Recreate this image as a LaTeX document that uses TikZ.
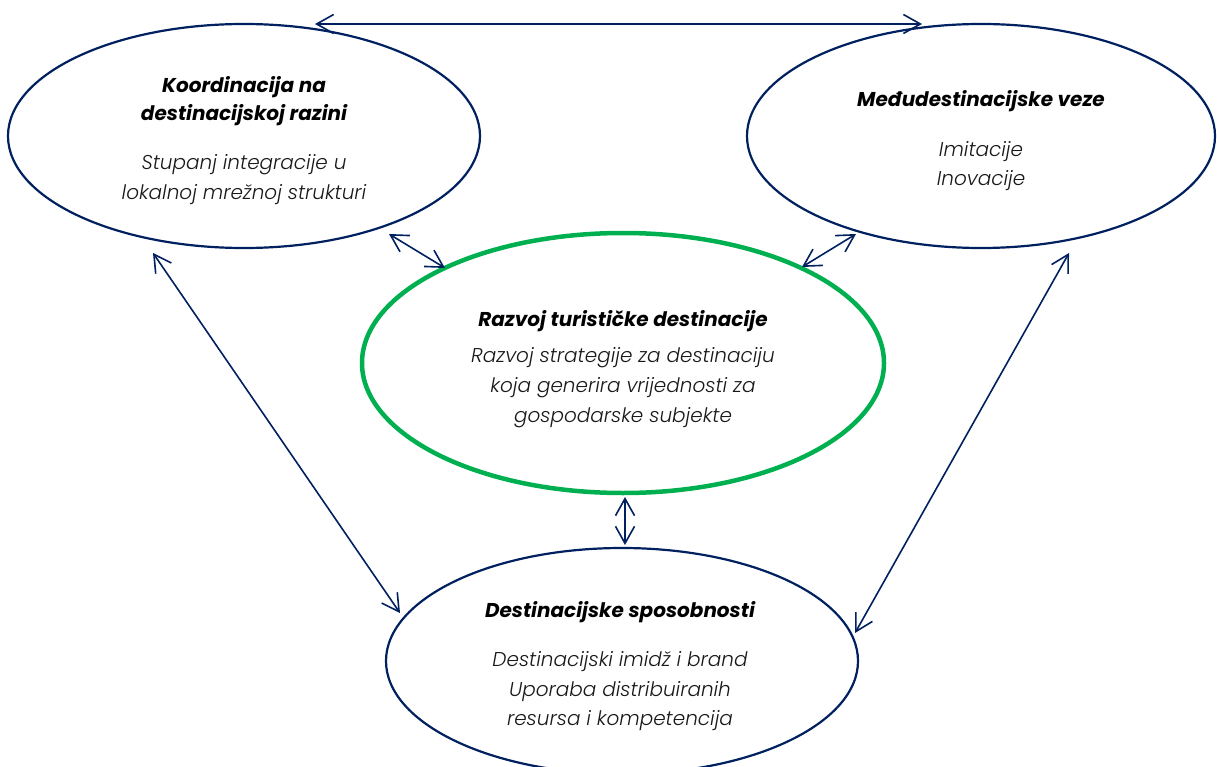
\documentclass[tikz,border=0pt]{standalone}
\usepackage{fontspec}
\setmainfont{Poppins}
\newfontfamily\thinit{Poppins Light Italic}
\usetikzlibrary{shapes.geometric,arrows.meta}
\definecolor{navy}{RGB}{0,32,96}
\definecolor{dgreen}{RGB}{0,176,80}
\begin{document}
\begin{tikzpicture}[x=1pt,y=-1pt,
  oval/.style={draw=navy,line width=2.2pt,ellipse,inner sep=0pt},
  hub/.style={draw=dgreen,line width=4.5pt,ellipse,inner sep=0pt},
  ttl/.style={anchor=base,font=\fontsize{20}{24}\selectfont\bfseries\itshape,inner sep=0pt},
  txt/.style={anchor=base,font=\fontsize{20}{24}\selectfont\thinit,inner sep=0pt,text=black!90},
  arr/.style={draw=navy,line width=1.6pt,{Straight Barb[length=17pt,width=19pt]}-{Straight Barb[length=17pt,width=19pt]}}]
\useasboundingbox (0,0) rectangle (1217,767);
% ellipses
\node[oval,minimum width=472pt,minimum height=224pt] (L) at (244,136) {};
\node[oval,minimum width=468pt,minimum height=224pt] (R) at (981,136) {};
\node[hub,minimum width=522pt,minimum height=260pt] (C) at (623,363) {};
\node[oval,minimum width=472pt,minimum height=226pt] (B) at (622,661) {};
% texts
\node[ttl] (L1) at (244,93) {Koordinacija na};
\node[ttl] (L2) at (244,121) {destinacijskoj razini};
\node[txt] (L3) at (244,170) {Stupanj integracije u};
\node[txt] (L4) at (244,200) {lokalnoj mrežnoj strukturi};
\node[ttl] (R1) at (981,107) {Međudestinacijske veze};
\node[txt] (R2) at (981,157) {Imitacije};
\node[txt] (R3) at (981,186) {Inovacije};
\node[ttl] (C1) at (623,326) {Razvoj turističke destinacije};
\node[txt] (C2) at (623,362) {Razvoj strategije za destinaciju};
\node[txt] (C3) at (623,392) {koja generira vrijednosti za};
\node[txt] (C4) at (623,422) {gospodarske subjekte};
\node[ttl] (B1) at (620,617) {Destinacijske sposobnosti};
\node[txt] (B2) at (620,666) {Destinacijski imidž i brand};
\node[txt] (B3) at (620,696) {Uporaba distribuiranih};
\node[txt] (B4) at (620,725) {resursa i kompetencija};
% connectors
\draw[arr] ([shift={(71,-112)}]L.center) -- ([shift={(-59,-112)}]R.center);
\draw[arr] ([shift={(145,98)}]L.center) -- ([shift={(-178,-95)}]C.center);
\draw[arr] ([shift={(-125,98)}]R.center) -- ([shift={(179,-96)}]C.center);
\draw[arr] ([shift={(2,134)}]C.center) -- ([shift={(3,-116)}]B.center);
\draw[arr] ([shift={(-91,117)}]L.center) -- ([shift={(-222,-48)}]B.center);
\draw[arr] ([shift={(88,117)}]R.center) -- ([shift={(233,-28)}]B.center);
\end{tikzpicture}
\end{document}
